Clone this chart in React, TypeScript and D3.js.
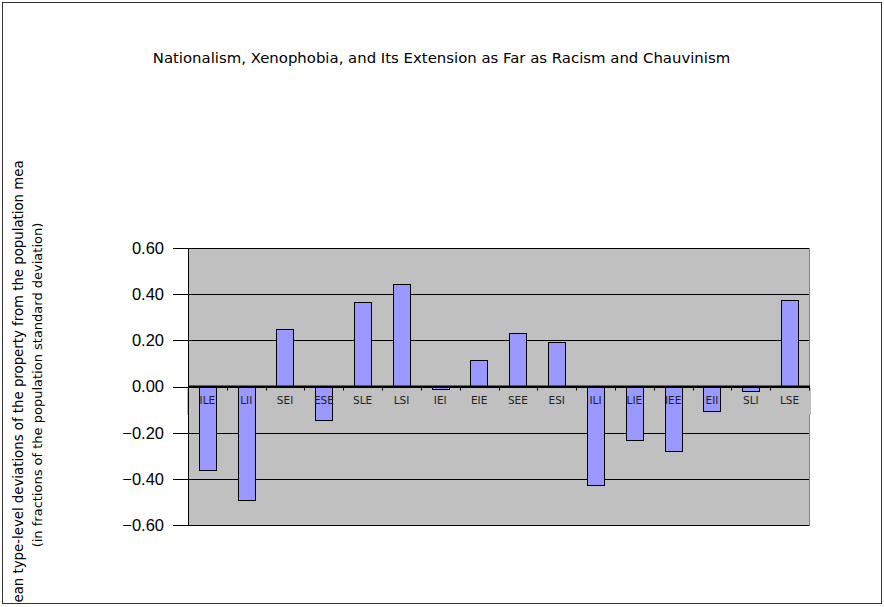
import React from "react";
import * as d3 from "d3";

const title = "Nationalism, Xenophobia, and Its Extension as Far as Racism and Chauvinism";
const yLabelLine1 = "Mean type-level deviations of the property from the population mean";
const yLabelLine2 = "(in fractions of the population standard deviation)";

const categories = ["ILE", "LII", "SEI", "ESE", "SLE", "LSI", "IEI", "EIE", "SEE", "ESI", "ILI", "LIE", "IEE", "EII", "SLI", "LSE"];
const values = [-0.36, -0.49, 0.25, -0.144, 0.366, 0.444, -0.01, 0.115, 0.232, 0.193, -0.425, -0.23, -0.278, -0.105, -0.019, 0.375];
const yTicks = [-0.6, -0.4, -0.2, 0, 0.2, 0.4, 0.6];

const W = 884;
const H = 607;
const plot = { left: 188, right: 809, top: 248, bottom: 525 };

export default function App() {
  const x = d3
    .scaleBand<string>()
    .domain(categories)
    .range([plot.left, plot.right])
    .paddingInner(0.554)
    .paddingOuter(0.277);
  const step = (plot.right - plot.left) / categories.length;
  const y = d3.scaleLinear().domain([-0.6, 0.6]).range([plot.bottom, plot.top]);
  const y0 = y(0);
  const fmt = d3.format(".2f");
  const crisp = (v: number) => Math.round(v) + 0.5;

  return (
    <svg
      width={W}
      height={H}
      style={{ position: "absolute", left: 0, top: 0, background: "#fff" }}
    >
      <defs>
        <clipPath id="ylabClip">
          <rect x={0} y={161} width={70} height={442} />
        </clipPath>
      </defs>
      <rect x={2.5} y={2.5} width={879} height={601} fill="#fff" stroke="#333" strokeWidth={1} />

      <text
        x={441.5}
        y={62.5}
        textAnchor="middle"
        fontFamily="DejaVu Sans"
        fontSize={14.9}
        fill="#000"
      >
        {title}
      </text>

      {/* plot area */}
      <rect
        x={plot.left + 0.5}
        y={plot.top + 0.5}
        width={plot.right - plot.left}
        height={plot.bottom - plot.top}
        fill="#c0c0c0"
        stroke="#808080"
        strokeWidth={1}
      />
      {/* category label band */}
      <rect x={187} y={388} width={624} height={27} fill="#c0c0c0" />

      {/* gridlines */}
      {yTicks.map((t) => (
        <line
          key={"g" + t}
          x1={plot.left}
          x2={plot.right}
          y1={crisp(y(t))}
          y2={crisp(y(t))}
          stroke="#000"
          strokeWidth={1}
        />
      ))}

      {/* bars */}
      {categories.map((c, i) => {
        const v = values[i];
        const bx = crisp(x(c) as number);
        const top = crisp(y(Math.max(0, v)));
        const bot = crisp(y(Math.min(0, v)));
        return (
          <rect
            key={c}
            x={bx}
            y={top}
            width={Math.round(x.bandwidth())}
            height={Math.max(1, bot - top)}
            fill="#9999ff"
            stroke="#000"
            strokeWidth={1}
          />
        );
      })}

      {/* zero axis */}
      <line x1={plot.left} x2={plot.right + 1} y1={y0} y2={y0} stroke="#000" strokeWidth={2} />
      {categories.map((c, i) => (
        <line
          key={"ct" + c}
          x1={crisp(plot.left + step * (i + 1))}
          x2={crisp(plot.left + step * (i + 1))}
          y1={y0}
          y2={y0 + 4}
          stroke="#000"
          strokeWidth={1}
        />
      ))}
      {categories.map((c) => (
        <text
          key={"cl" + c}
          x={(x(c) as number) + x.bandwidth() / 2}
          y={404}
          textAnchor="middle"
          fontFamily="DejaVu Sans"
          fontSize={10.5}
          fill="#222"
        >
          {c}
        </text>
      ))}

      {/* y axis */}
      <line x1={plot.left + 0.5} x2={plot.left + 0.5} y1={plot.top} y2={plot.bottom + 1} stroke="#000" strokeWidth={1} />
      {yTicks.map((t) => (
        <g key={"yt" + t}>
          <line x1={173} x2={plot.left} y1={crisp(y(t))} y2={crisp(y(t))} stroke="#000" strokeWidth={1} />
          <text
            x={164}
            y={y(t)}
            dy="0.36em"
            textAnchor="end"
            fontFamily="Liberation Sans"
            fontSize={16.5}
            fill="#000"
          >
            {fmt(t)}
          </text>
        </g>
      ))}

      {/* y axis title */}
      <g clipPath="url(#ylabClip)">
        <text
          transform="translate(23,383) rotate(-90)"
          textAnchor="middle"
          fontFamily="DejaVu Sans"
          fontSize={13.3}
          fill="#000"
        >
          {yLabelLine1}
        </text>
        <text
          transform="translate(41.5,385) rotate(-90)"
          textAnchor="middle"
          fontFamily="DejaVu Sans"
          fontSize={13}
          fill="#000"
        >
          {yLabelLine2}
        </text>
      </g>
    </svg>
  );
}
